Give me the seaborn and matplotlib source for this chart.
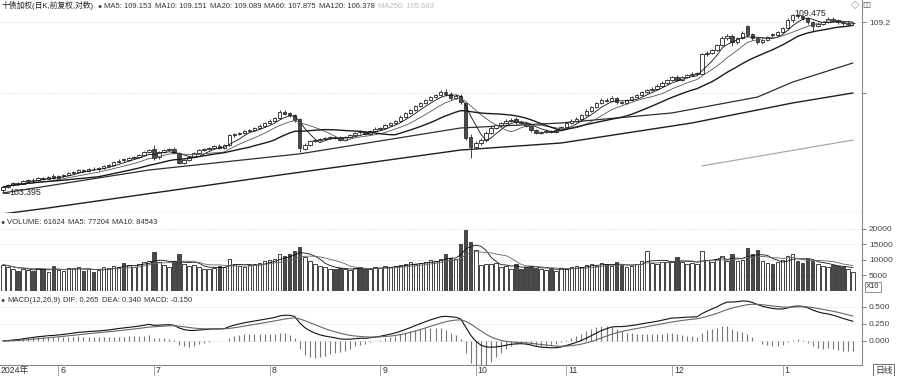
import numpy as np
import pandas as pd
import matplotlib
matplotlib.use("Agg")
import matplotlib.pyplot as plt
import seaborn as sns

# ---------------- data ----------------
open_ = [
    103.50, 103.60, 103.67, 103.74, 103.71, 103.79, 103.84, 103.83, 103.91, 103.88,
    103.96, 103.91, 103.96, 104.00, 104.07, 104.11, 104.17, 104.14, 104.21, 104.19,
    104.24, 104.31, 104.35, 104.44, 104.54, 104.50, 104.58, 104.61, 104.68, 104.78,
    104.90, 104.60, 104.78, 104.85, 104.89, 104.74, 104.42, 104.51, 104.62, 104.75,
    104.85, 104.88, 104.92, 105.00, 104.92, 105.03, 105.35, 105.39, 105.42, 105.50,
    105.53, 105.60, 105.68, 105.77, 105.85, 105.95, 106.15, 106.10, 106.03, 105.90,
    104.90, 105.02, 105.15, 105.19, 105.22, 105.26, 105.29, 105.28, 105.19, 105.29,
    105.36, 105.50, 105.46, 105.39, 105.50, 105.57, 105.60, 105.70, 105.77, 105.85,
    105.98, 106.11, 106.21, 106.35, 106.45, 106.55, 106.65, 106.72, 106.83, 106.76,
    106.62, 106.70, 106.45, 105.30, 104.95, 105.09, 105.19, 105.43, 105.60, 105.70,
    105.77, 105.84, 105.90, 105.80, 105.78, 105.66, 105.52, 105.43, 105.46, 105.50,
    105.46, 105.53, 105.63, 105.77, 105.84, 105.91, 106.04, 106.18, 106.31, 106.45,
    106.56, 106.52, 106.62, 106.48, 106.45, 106.55, 106.65, 106.72, 106.82, 106.89,
    106.93, 107.03, 107.13, 107.23, 107.35, 107.23, 107.33, 107.40, 107.43, 107.45,
    108.11, 108.15, 108.25, 108.42, 108.66, 108.74, 108.52, 108.66, 109.05, 108.78,
    108.66, 108.52, 108.59, 108.78, 108.76, 108.86, 109.00, 109.27, 109.45, 109.40,
    109.34, 109.20, 109.07, 109.13, 109.20, 109.32, 109.26, 109.20, 109.14, 109.16,
]
high = [
    103.63, 103.70, 103.78, 103.78, 103.84, 103.88, 103.89, 103.94, 103.95, 103.98,
    104.02, 104.01, 104.05, 104.12, 104.14, 104.21, 104.20, 104.25, 104.26, 104.28,
    104.35, 104.39, 104.48, 104.53, 104.58, 104.62, 104.66, 104.72, 104.82, 104.90,
    105.02, 104.82, 104.90, 104.93, 104.94, 104.77, 104.56, 104.65, 104.79, 104.89,
    104.93, 104.97, 105.03, 105.05, 105.06, 105.40, 105.44, 105.47, 105.54, 105.58,
    105.64, 105.72, 105.81, 105.89, 105.99, 106.20, 106.22, 106.16, 106.08, 105.95,
    105.08, 105.19, 105.24, 105.27, 105.30, 105.34, 105.33, 105.32, 105.33, 105.40,
    105.48, 105.54, 105.50, 105.54, 105.62, 105.65, 105.74, 105.82, 105.88, 106.03,
    106.15, 106.26, 106.39, 106.50, 106.59, 106.70, 106.77, 106.90, 106.94, 106.82,
    106.76, 106.75, 106.50, 105.38, 105.15, 105.26, 105.49, 105.66, 105.75, 105.82,
    105.89, 105.93, 105.98, 105.85, 105.82, 105.70, 105.57, 105.51, 105.55, 105.54,
    105.58, 105.67, 105.81, 105.89, 105.96, 106.08, 106.23, 106.36, 106.50, 106.61,
    106.62, 106.68, 106.66, 106.53, 106.60, 106.70, 106.77, 106.87, 106.94, 106.99,
    107.08, 107.18, 107.28, 107.38, 107.40, 107.38, 107.45, 107.49, 107.52, 108.16,
    108.21, 108.30, 108.47, 108.72, 108.80, 108.79, 108.71, 108.90, 109.10, 108.82,
    108.70, 108.64, 108.74, 108.82, 108.91, 109.05, 109.33, 109.475, 109.47, 109.44,
    109.38, 109.24, 109.18, 109.25, 109.36, 109.37, 109.30, 109.25, 109.23, 109.22,
]
low = [
    103.395, 103.55, 103.63, 103.66, 103.68, 103.75, 103.78, 103.80, 103.83, 103.85,
    103.86, 103.88, 103.93, 103.97, 104.03, 104.08, 104.10, 104.11, 104.16, 104.15,
    104.21, 104.27, 104.32, 104.40, 104.46, 104.47, 104.54, 104.58, 104.65, 104.74,
    104.52, 104.56, 104.74, 104.81, 104.71, 104.37, 104.38, 104.48, 104.59, 104.72,
    104.81, 104.84, 104.89, 104.88, 104.89, 105.00, 105.31, 105.35, 105.39, 105.46,
    105.50, 105.56, 105.64, 105.73, 105.81, 105.92, 106.03, 105.99, 105.82, 104.80,
    104.84, 104.98, 105.11, 105.15, 105.18, 105.22, 105.22, 105.15, 105.16, 105.25,
    105.32, 105.41, 105.35, 105.36, 105.46, 105.53, 105.56, 105.66, 105.73, 105.81,
    105.94, 106.07, 106.17, 106.31, 106.41, 106.51, 106.61, 106.68, 106.70, 106.55,
    106.57, 106.42, 105.20, 104.58, 104.88, 105.03, 105.14, 105.38, 105.55, 105.65,
    105.72, 105.79, 105.75, 105.72, 105.62, 105.48, 105.38, 105.39, 105.42, 105.42,
    105.42, 105.49, 105.59, 105.73, 105.80, 105.87, 106.00, 106.14, 106.27, 106.41,
    106.47, 106.48, 106.43, 106.40, 106.41, 106.51, 106.61, 106.68, 106.78, 106.85,
    106.89, 106.99, 107.09, 107.19, 107.18, 107.19, 107.29, 107.36, 107.39, 107.42,
    108.05, 108.10, 108.21, 108.38, 108.60, 108.40, 108.47, 108.61, 108.70, 108.60,
    108.46, 108.47, 108.55, 108.71, 108.72, 108.82, 108.96, 109.22, 109.35, 109.28,
    109.14, 108.90, 109.02, 109.09, 109.16, 109.20, 109.15, 109.11, 109.09, 109.10,
]
close = [
    103.59, 103.66, 103.73, 103.70, 103.80, 103.83, 103.83, 103.90, 103.87, 103.93,
    103.90, 103.97, 104.00, 104.07, 104.10, 104.17, 104.14, 104.20, 104.20, 104.24,
    104.31, 104.34, 104.44, 104.48, 104.51, 104.58, 104.61, 104.68, 104.78, 104.85,
    104.58, 104.78, 104.85, 104.88, 104.75, 104.41, 104.51, 104.61, 104.75, 104.85,
    104.88, 104.92, 104.99, 104.92, 105.02, 105.36, 105.39, 105.43, 105.50, 105.53,
    105.60, 105.67, 105.77, 105.84, 105.94, 106.14, 106.08, 106.04, 105.87, 104.92,
    105.02, 105.15, 105.19, 105.22, 105.26, 105.29, 105.26, 105.19, 105.29, 105.36,
    105.43, 105.46, 105.39, 105.50, 105.57, 105.60, 105.70, 105.77, 105.84, 105.98,
    106.11, 106.21, 106.35, 106.45, 106.55, 106.65, 106.72, 106.82, 106.75, 106.62,
    106.69, 106.48, 105.26, 104.95, 105.09, 105.19, 105.43, 105.60, 105.70, 105.77,
    105.84, 105.87, 105.80, 105.77, 105.67, 105.53, 105.43, 105.46, 105.50, 105.46,
    105.53, 105.63, 105.77, 105.84, 105.91, 106.04, 106.18, 106.31, 106.45, 106.55,
    106.52, 106.62, 106.48, 106.45, 106.55, 106.65, 106.72, 106.82, 106.89, 106.93,
    107.03, 107.13, 107.23, 107.33, 107.23, 107.33, 107.40, 107.43, 107.47, 108.11,
    108.15, 108.25, 108.42, 108.66, 108.72, 108.52, 108.66, 108.83, 108.76, 108.66,
    108.52, 108.59, 108.69, 108.76, 108.86, 109.00, 109.27, 109.45, 109.41, 109.34,
    109.20, 109.07, 109.13, 109.20, 109.31, 109.25, 109.20, 109.16, 109.18, 109.17,
]
volume = [
    85000, 78000, 70000, 66000, 72000, 69000, 64000, 75000, 70000, 62000,
    80000, 68000, 66000, 74000, 71000, 79000, 65000, 70000, 62000, 68000,
    76000, 73000, 81000, 77000, 90000, 84000, 79000, 86000, 95000, 98000,
    125000, 92000, 84000, 78000, 96000, 118000, 88000, 80000, 84000, 79000,
    72000, 70000, 75000, 82000, 78000, 102000, 86000, 80000, 77000, 84000,
    88000, 90000, 96000, 99000, 104000, 118000, 112000, 120000, 128000, 142000,
    110000, 96000, 88000, 80000, 76000, 72000, 70000, 74000, 71000, 68000,
    73000, 76000, 70000, 72000, 78000, 74000, 80000, 76000, 82000, 85000,
    88000, 92000, 86000, 90000, 95000, 100000, 98000, 104000, 120000, 108000,
    102000, 150000, 198000, 158000, 132000, 84000, 88000, 86000, 90000, 76000,
    80000, 72000, 86000, 70000, 78000, 82000, 74000, 70000, 68000, 72000,
    66000, 74000, 70000, 76000, 80000, 78000, 84000, 88000, 82000, 90000,
    86000, 80000, 92000, 84000, 78000, 82000, 88000, 96000, 130000, 90000,
    86000, 92000, 94000, 96000, 110000, 92000, 88000, 90000, 86000, 128000,
    100000, 94000, 104000, 112000, 98000, 120000, 96000, 100000, 138000, 118000,
    132000, 96000, 90000, 88000, 92000, 100000, 112000, 120000, 96000, 90000,
    104000, 98000, 86000, 80000, 78000, 84000, 80000, 76000, 72000, 61624,
]
# long moving averages at a few candles
ma60_idx = [0, 29, 59, 91, 111, 133, 150, 157, 169]
ma60_val = [103.39, 104.17, 104.72, 105.60, 105.77, 106.11, 106.65, 107.16, 107.81]
ma120_idx = [0, 9, 55, 91, 111, 137, 157, 169]
ma120_val = [102.68, 102.88, 104.00, 104.85, 105.09, 105.77, 106.45, 106.79]
ma250_idx = [139, 169]
ma250_val = [104.31, 105.19]

month_idx = [11, 30, 53, 75, 94, 112, 133, 155]
month_labels = ["6", "7", "8", "9", "10", "11", "12", "1"]

title_txt = "十债加权(日K,前复权,对数)"
ma_legend = ["MA5: 109.153", "MA10: 109.151", "MA20: 109.089",
             "MA60: 107.875", "MA120: 106.378", "MA250: 105.683"]
vol_legend = ["VOLUME: 61624", "MA5: 77204", "MA10: 84543"]
macd_legend = ["MACD(12,26,9)", "DIF: 0.265", "DEA: 0.340", "MACD: -0.150"]

# ---------------- style ----------------
sns.set_theme(style="white")
plt.rcParams["font.family"] = ["Liberation Sans", "Noto Sans CJK SC", "DejaVu Sans"]

W, H = 900, 376
fig = plt.figure(figsize=(9, 3.76), dpi=100, facecolor="white")
renderer = fig.canvas.get_renderer()


def rect(x0, y0, x1, y1):
    return [x0 / W, 1 - y1 / H, (x1 - x0) / W, (y1 - y0) / H]


def ftxt(x, y, s, **kw):
    kw.setdefault("fontsize", 5.5)
    kw.setdefault("va", "center")
    kw.setdefault("color", "#333333")
    return fig.text(x / W, 1 - y / H, s, **kw)


def text_row(y, x0, items, colors, sizes, gap=4):
    x = x0
    for s, c, fs in zip(items, colors, sizes):
        t = ftxt(x, y, s, color=c, fontsize=fs)
        x += t.get_window_extent(renderer).width + gap
    return x


ax_p = fig.add_axes(rect(0, 0, 862, 213))
ax_v = fig.add_axes(rect(0, 213, 862, 291), sharex=ax_p)
ax_m = fig.add_axes(rect(0, 291, 862, 365), sharex=ax_p)

df = pd.DataFrame({"i": np.arange(len(close)), "o": open_, "h": high,
                   "l": low, "c": close, "v": volume})
df["ma5"] = df["c"].rolling(5, min_periods=1).mean()
df["ma10"] = df["c"].rolling(10, min_periods=1).mean()
df["ma20"] = df["c"].rolling(20, min_periods=1).mean()
df["vma5"] = df["v"].rolling(5, min_periods=1).mean()
df["vma10"] = df["v"].rolling(10, min_periods=1).mean()
ema12 = df["c"].ewm(span=12, adjust=False).mean()
ema26 = df["c"].ewm(span=26, adjust=False).mean()
df["dif"] = ema12 - ema26
df["dea"] = df["dif"].ewm(span=9, adjust=False).mean()
df["macd_h"] = 2 * (df["dif"] - df["dea"])

up = (df["c"] >= df["o"]).to_numpy()
xi = df["i"].to_numpy()
edge = "#222222"
dark = "#4a4a4a"

# ---------------- price panel ----------------
ax = ax_p
ax.vlines(xi, df["l"].to_numpy(), df["h"].to_numpy(), color=edge, lw=0.6, zorder=2)
body_b = np.minimum(df["o"], df["c"]).to_numpy()
body_h = np.maximum((df["c"] - df["o"]).abs().to_numpy(), 0.012)
ax.bar(xi[up], body_h[up], bottom=body_b[up], width=0.7, facecolor="white",
       edgecolor=edge, lw=0.6, zorder=3)
ax.bar(xi[~up], body_h[~up], bottom=body_b[~up], width=0.7, facecolor=dark,
       edgecolor="#333333", lw=0.6, zorder=3)
sns.lineplot(x=xi, y=df["ma5"].to_numpy(), ax=ax, color="#111111", lw=0.6, zorder=4)
sns.lineplot(x=xi, y=df["ma10"].to_numpy(), ax=ax, color="#555555", lw=0.6, zorder=4)
sns.lineplot(x=xi, y=df["ma20"].to_numpy(), ax=ax, color="#1a1a1a", lw=1.0, zorder=4)
sns.lineplot(x=ma60_idx, y=ma60_val, ax=ax, color="#2e2e2e", lw=0.9, zorder=1)
sns.lineplot(x=ma120_idx, y=ma120_val, ax=ax, color="#1e1e1e", lw=1.0, zorder=1)
sns.lineplot(x=ma250_idx, y=ma250_val, ax=ax, color="#aaaaaa", lw=0.9, zorder=1)
ax.set_ylim(102.709, 109.951)
ax.set_xlim(-0.6, 170.8)
imax = int(np.argmax(high)); imin = int(np.argmin(low))
ax.plot([imin, imin + 1.2], [low[imin], low[imin]], color="#333", lw=0.6)
ax.text(imin + 1.3, low[imin], f"{low[imin]:.3f}", fontsize=6.3, va="center",
        ha="left", color="#222")
ax.text(imax + 0.3, high[imax], f"{high[imax]:.3f}", fontsize=6.3, va="center",
        ha="left", color="#222", zorder=6)
ax.set_yticks([109.2, 106.8], ["109.2", ""])

# ---------------- volume panel ----------------
ax = ax_v
vv = df["v"].to_numpy()
ax.bar(xi[up], vv[up], width=0.7, facecolor="white", edgecolor=edge, lw=0.6)
ax.bar(xi[~up], vv[~up], width=0.7, facecolor=dark, edgecolor="#333", lw=0.6)
sns.lineplot(x=xi, y=df["vma5"].to_numpy(), ax=ax, color="#111111", lw=0.6)
sns.lineplot(x=xi, y=df["vma10"].to_numpy(), ax=ax, color="#666666", lw=0.6)
ax.set_ylim(0, 251600)
ax.set_yticks([50000, 100000, 150000, 200000], ["5000", "10000", "15000", "20000"])

# ---------------- MACD panel ----------------
ax = ax_m
ax.vlines(xi, 0, df["macd_h"].to_numpy(), color="#777777", lw=0.8)
sns.lineplot(x=xi, y=df["dif"].to_numpy(), ax=ax, color="#111111", lw=0.8)
sns.lineplot(x=xi, y=df["dea"].to_numpy(), ax=ax, color="#666666", lw=0.8)
ax.set_ylim(-0.353, 0.735)
ax.set_yticks([0, 0.25, 0.5], ["0.000", "0.250", "0.500"])
ax.set_xticks(month_idx, [""] * len(month_idx))

for a in (ax_p, ax_v, ax_m):
    a.set_xlabel(""); a.set_ylabel("")
    a.yaxis.tick_right()
    a.tick_params(axis="y", length=3, width=0.6, color="#666", labelsize=6,
                  labelcolor="#444", pad=2, right=True, left=False)
    a.grid(axis="y", color="#c8c8c8", lw=0.6, linestyle=(0, (1, 2)))
    a.grid(axis="x", visible=False)
    for s in ("left", "top"):
        a.spines[s].set_visible(False)
    for s in ("right", "bottom"):
        a.spines[s].set_color("#888888")
        a.spines[s].set_linewidth(0.8)
    a.set_facecolor("white")
for a in (ax_p, ax_v):
    a.tick_params(axis="x", bottom=False, labelbottom=False)
ax_m.tick_params(axis="x", bottom=True, length=9, width=0.6, color="#999",
                 labelbottom=False)

# month labels in the bottom strip, just right of their tick marks
x_of = lambda i: (i + 0.6) / 171.4 * 862
for i, lab in zip(month_idx, month_labels):
    ftxt(x_of(i) + 2, 370.5, lab, fontsize=6.3, color="#333")
ftxt(1, 370.5, "2024年", fontsize=6.3, color="#333")

# ---------------- legends ----------------
row1 = [title_txt, "●"] + ma_legend
text_row(6, 2, row1, ["#222", "#444"] + ["#333"] * 5 + ["#bbbbbb"],
         [5.6, 5] + [5.5] * 6, gap=3)
ftxt(851, 6, "◇", fontsize=6, color="#555")
ftxt(862, 6, "◫", fontsize=6, color="#555")
text_row(222, 0, ["●"] + vol_legend, ["#444"] + ["#333"] * 3, [5] + [5.5] * 3, gap=3)
text_row(300, 0, ["●"] + macd_legend, ["#444"] + ["#333"] * 4, [5] + [5.5] * 4, gap=3)
ftxt(866, 287, "X10", fontsize=5.5,
     bbox=dict(boxstyle="square,pad=0.15", fc="white", ec="#666", lw=0.5))
ftxt(875, 370, "日线", fontsize=6.3,
     bbox=dict(boxstyle="square,pad=0.2", fc="white", ec="#555", lw=0.6))

fig.savefig("out.png", dpi=100, facecolor="white")
